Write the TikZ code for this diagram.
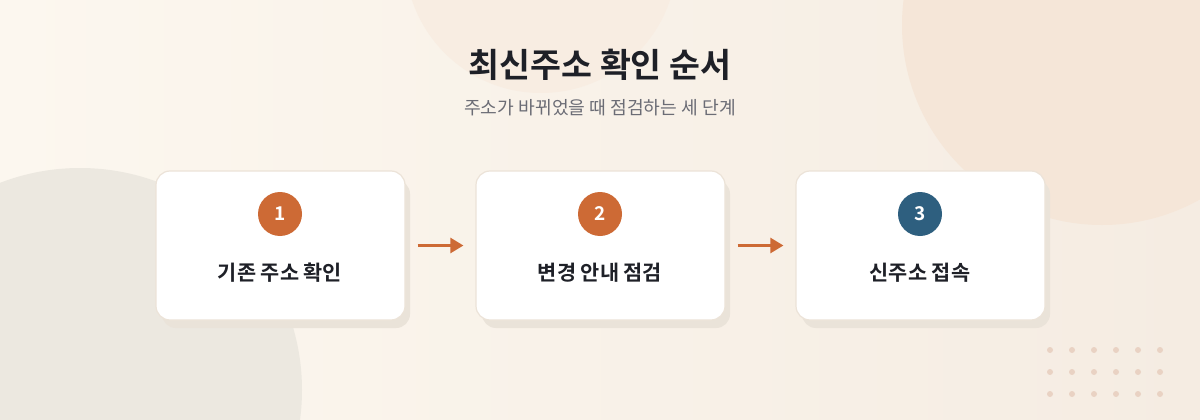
\documentclass[tikz,border=0pt]{standalone}
\usepackage{fontspec}
\setmainfont{Noto Sans CJK KR}
\newfontfamily\krbold{Noto Sans CJK KR Bold}
\usetikzlibrary{arrows.meta}
\definecolor{bgA}{HTML}{FCF7EF}
\definecolor{bgB}{HTML}{F5ECE2}
\definecolor{blobA}{HTML}{F8EDE2}
\definecolor{blobB}{HTML}{F5E6D8}
\definecolor{blobC}{HTML}{ECE8E0}
\definecolor{cardline}{HTML}{ECE3D8}
\definecolor{shadowc}{HTML}{EAE3D9}
\definecolor{accent}{HTML}{CD6A35}
\definecolor{navy}{HTML}{2E5F7F}
\definecolor{titlec}{HTML}{1E2027}
\definecolor{subc}{HTML}{6B6C75}
\definecolor{dotc}{HTML}{E9D2C3}
\tikzset{
  cardbox/.style={draw=cardline, line width=1.2pt, fill=white, rounded corners=14pt,
    minimum width=249pt, minimum height=149pt, inner sep=0pt},
  cardshadow/.style={fill=shadowc, rounded corners=14pt},
  badge/.style={circle, minimum size=44pt, inner sep=0pt, text=white,
    font=\krbold\fontsize{19}{19}\selectfont},
  steplabel/.style={font=\krbold\fontsize{20.8}{21}\selectfont, text=titlec},
  flow/.style={draw=accent, line width=2.6pt, -{Triangle[length=13pt,width=15pt]}},
  deco/.style={fill=dotc}
}
\begin{document}
\begin{tikzpicture}[x=1pt,y=-1pt]
\useasboundingbox (0,0) rectangle (1200,420);
\shade[shading=axis, shading angle=-70, left color=bgA, right color=bgB] (0,0) rectangle (1200,420);
\begin{scope}
\clip (0,0) rectangle (1200,420);
\fill[blobA] (541,-43) circle (136);
\fill[blobB] (1102,25) circle (200);
\fill[blobC] (80,390) circle (222);
\end{scope}
% title
\node[font=\krbold\fontsize{33.6}{34}\selectfont, text=titlec] (title) at (600,65) {최신주소 확인 순서};
\node[font=\fontsize{18.2}{19}\selectfont, text=subc] (sub) at (600,108) {주소가 바뀌었을 때 점검하는 세 단계};
% cards
\foreach \n/\cx in {1/280.5,2/600.5,3/920.5}{
  \fill[cardshadow] (\cx-124.5+6,171+9) rectangle (\cx+124.5+5,320+8);
}
\node[cardbox] (c1) at (280.5,245.5) {};
\node[cardbox] (c2) at (600.5,245.5) {};
\node[cardbox] (c3) at (920.5,245.5) {};
\node[badge, fill=accent] (b1) at (280,214) {1};
\node[badge, fill=accent] (b2) at (600,214) {2};
\node[badge, fill=navy] (b3) at (920,214) {3};
\node[steplabel] (l1) at (280,273) {기존 주소 확인};
\node[steplabel] (l2) at (600,273) {변경 안내 점검};
\node[steplabel] (l3) at (920,273) {신주소 접속};
% arrows
\draw[flow] ([xshift=12pt]c1.east) -- ([xshift=-12pt]c2.west);
\draw[flow] ([xshift=12pt]c2.east) -- ([xshift=-12pt]c3.west);
% dots
\foreach \i in {0,...,5}{
  \foreach \j in {0,1,2}{
    \fill[deco] (1050+\i*22,350+\j*22) circle (3);
  }
}
\end{tikzpicture}
\end{document}
